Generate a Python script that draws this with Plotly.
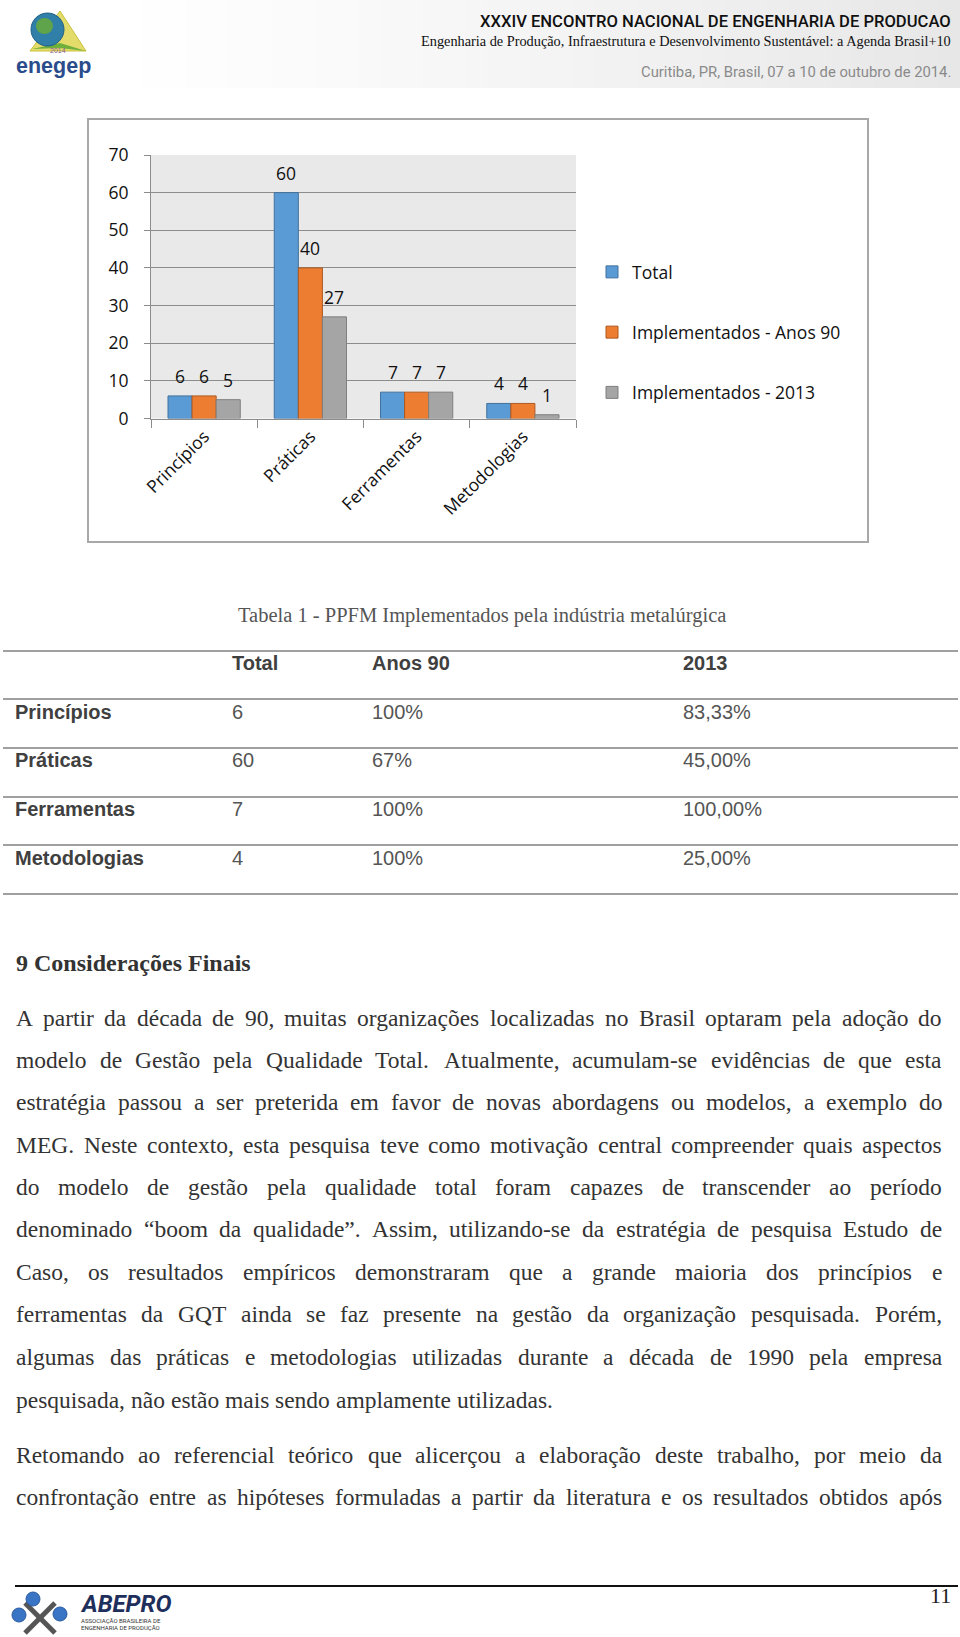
import plotly.graph_objects as go

PAGE_W, PAGE_H = 960, 1637

# ---------------- chart data ----------------
categories = ["Princípios", "Práticas", "Ferramentas", "Metodologias"]
series_names = ["Total", "Implementados - Anos 90", "Implementados - 2013"]
total = [6, 60, 7, 4]
anos90 = [6, 40, 7, 4]
ano2013 = [5, 27, 7, 1]
y_ticks = [0, 10, 20, 30, 40, 50, 60, 70]

# ---------------- table data ----------------
table_title = "Tabela 1 - PPFM Implementados pela indústria metalúrgica"
table_header = ["Total", "Anos 90", "2013"]
table_total = ["6", "60", "7", "4"]
table_anos90 = ["100%", "67%", "100%", "100%"]
table_2013 = ["83,33%", "45,00%", "100,00%", "25,00%"]

# ---------------- page text ----------------
heading = "9 Considerações Finais"
para1 = [
    "A partir da década de 90, muitas organizações localizadas no Brasil optaram pela adoção do",
    "modelo de Gestão pela Qualidade Total. Atualmente, acumulam-se evidências de que esta",
    "estratégia passou a ser preterida em favor de novas abordagens ou modelos, a exemplo do",
    "MEG. Neste contexto, esta pesquisa teve como motivação central compreender quais aspectos",
    "do modelo de gestão pela qualidade total foram capazes de transcender ao período",
    "denominado “boom da qualidade”. Assim, utilizando-se da estratégia de pesquisa Estudo de",
    "Caso, os resultados empíricos demonstraram que a grande maioria dos princípios e",
    "ferramentas da GQT ainda se faz presente na gestão da organização pesquisada. Porém,",
    "algumas das práticas e metodologias utilizadas durante a década de 1990 pela empresa",
    "pesquisada, não estão mais sendo amplamente utilizadas.",
]
para2 = [
    "Retomando ao referencial teórico que alicerçou a elaboração deste trabalho, por meio da",
    "confrontação entre as hipóteses formuladas a partir da literatura e os resultados obtidos após",
]


def PX(x):
    return x / PAGE_W


def PY(y):
    return 1 - y / PAGE_H


annotations = []


def ann(x, y, text, family, size, color, xanchor="left", yanchor="middle", weight=None):
    font = dict(family=family, size=size, color=color)
    if weight is not None:
        font["weight"] = weight
    annotations.append(dict(x=PX(x), y=PY(y), xref="paper", yref="paper", text=text,
                            showarrow=False, xanchor=xanchor, yanchor=yanchor,
                            borderpad=0, borderwidth=0, font=font))


colors = ["#5B9BD5", "#ED7D31", "#A5A5A5"]
edge = ["#41719C", "#AE5A21", "#7F7F7F"]
values = [total, anos90, ano2013]

CH_FONT = "Open Sans, Lato, sans-serif"
CH_SIZE = 17.5
BARGAP = 0.32
bw = (1 - BARGAP) / 3

fig = go.Figure()
xs = list(range(len(categories)))
for i, (name, vals) in enumerate(zip(series_names, values)):
    fig.add_trace(go.Bar(
        x=xs, y=vals, name=name, legendgroup=name,
        marker=dict(color=colors[i], line=dict(color=edge[i], width=1)),
        hoverinfo="y",
    ))

# value labels above bars, placed through the chart axes
for i, vals in enumerate(values):
    for c, v in zip(xs, vals):
        annotations.append(dict(
            x=c + (i - 1) * bw, y=v, xref="x", yref="y", text=str(v),
            showarrow=False, xanchor="center", yanchor="bottom", yshift=6,
            font=dict(family=CH_FONT, size=CH_SIZE, color="#111111"),
        ))

shapes = []
# header gradient band
N = 40
X0 = 100
for k in range(N):
    t = (k + 0.5) / N
    g = int(round(255 - 24 * t ** 1.2))
    x0 = X0 + (960 - X0) * k / N
    x1 = X0 + (960 - X0) * (k + 1) / N + 0.5
    shapes.append(dict(type="rect", xref="paper", yref="paper",
                       x0=PX(x0), x1=PX(min(x1, 960)), y0=PY(88), y1=PY(0),
                       fillcolor=f"rgb({g},{g},{g})", line=dict(width=0), layer="below"))


def path(pts):
    return "M " + " L ".join(f"{PX(x):.5f},{PY(y):.5f}" for x, y in pts) + " Z"


# enegep logo (approximation)
shapes.append(dict(type="path", xref="paper", yref="paper",
                   path=path([(60, 11), (86, 51), (30, 51)]),
                   fillcolor="#E4DC6A", line=dict(color="#C9C23A", width=1)))
shapes.append(dict(type="path", xref="paper", yref="paper",
                   path=path([(32, 49), (60, 43), (86, 51), (60, 48)]),
                   fillcolor="#6FAF3C", line=dict(width=0)))
shapes.append(dict(type="circle", xref="paper", yref="paper",
                   x0=PX(31), x1=PX(64), y0=PY(46), y1=PY(13),
                   fillcolor="#2F7FA8", line=dict(color="#1F5E86", width=1)))
shapes.append(dict(type="circle", xref="paper", yref="paper",
                   x0=PX(36), x1=PX(53), y0=PY(34), y1=PY(18),
                   fillcolor="#5FA34A", line=dict(width=0)))
ann(58, 50, "2014", "Liberation Sans", 7, "#8A5A9A", xanchor="center")
ann(53, 66, "<b>enegep</b>", "Liberation Sans, Arial", 21.5, "#2B4C8C", xanchor="center")

# header texts
NARROW = "Roboto, Liberation Sans, sans-serif"
ann(951, 21, "XXXIV ENCONTRO NACIONAL DE ENGENHARIA DE PRODUCAO", NARROW, 16.6, "#111111",
    xanchor="right", weight=500)
ann(951, 41, "Engenharia de Produção, Infraestrutura e Desenvolvimento Sustentável: a Agenda Brasil+10",
    "Liberation Serif, Times New Roman, serif", 14.3, "#111111", xanchor="right")
ann(951, 72, "Curitiba, PR, Brasil, 07 a 10 de outubro de 2014.", NARROW, 14.8, "#8A8A8A", xanchor="right")

# chart border
shapes.append(dict(type="rect", xref="paper", yref="paper",
                   x0=PX(88), x1=PX(868), y0=PY(542), y1=PY(119),
                   line=dict(color="#A8A8A8", width=2), fillcolor="rgba(0,0,0,0)"))

# table
SANS = "Liberation Sans, Arial, sans-serif"
SERIF = "Liberation Serif, Times New Roman, serif"
ann(482, 615, table_title, SERIF, 20.5, "#555555", xanchor="center")
for yl in [651, 699, 748, 797, 845, 894]:
    shapes.append(dict(type="line", xref="paper", yref="paper", x0=PX(3), x1=PX(958),
                       y0=PY(yl), y1=PY(yl), line=dict(color="#A0A0A0", width=2)))
col_x = [232, 372, 683]
for cx, h in zip(col_x, table_header):
    ann(cx, 663, f"<b>{h}</b>", SANS, 20, "#404040")
row_y = [712, 760, 809, 858]
for r, cat in enumerate(categories):
    ann(15, row_y[r], f"<b>{cat}</b>", SANS, 20, "#404040")
    for cx, val in zip(col_x, [table_total[r], table_anos90[r], table_2013[r]]):
        ann(cx, row_y[r], val, SANS, 20, "#555555")

# body text with justification (Times metrics)
TW = {}
for chars, w in [(" ,.", 250), ("ijlt:;íì", 278), ("fr-()I'", 333), ("sJ", 389),
                 ("aceáàâãçéêèz?“”", 444), ("bdghknopquvxyóôõúü0123456789", 500),
                 ("FPS", 556), ("+=", 564), ("ELTZ", 611), ("BCR", 667),
                 ("ADGHKNOQUVXYw", 722), ("m", 778), ("M", 889), ("W", 944)]:
    for ch in chars:
        TW[ch] = w


def tw(s, size):
    return sum(TW.get(ch, 500) for ch in s) / 1000.0 * size


BODY = 23.5
LEFT, RIGHT = 16, 942
TEXT_COL = "#333333"


def add_line(line, y, justify):
    words = line.split(" ")
    widths = [tw(w, BODY) for w in words]
    if justify and len(words) > 1:
        gap = (RIGHT - LEFT - sum(widths)) / (len(words) - 1)
    else:
        gap = tw(" ", BODY)
    x = LEFT
    for w, wd in zip(words, widths):
        ann(x, y, w, SERIF, BODY, TEXT_COL)
        x += wd + gap


ann(LEFT, 963, f"<b>{heading}</b>", SERIF, 24, "#333333")
p1_y = [1018, 1060, 1102, 1145, 1187, 1229, 1272, 1314, 1357, 1400]
for k, (ln, yy) in enumerate(zip(para1, p1_y)):
    add_line(ln, yy, justify=(k < len(para1) - 1))
p2_y = [1455, 1497]
for ln, yy in zip(para2, p2_y):
    add_line(ln, yy, justify=True)

# footer
shapes.append(dict(type="line", xref="paper", yref="paper", x0=PX(15), x1=PX(958),
                   y0=PY(1586), y1=PY(1586), line=dict(color="#111111", width=2)))
ann(951, 1595, "11", SERIF, 22, "#222222", xanchor="right")
# ABEPRO logo (approximation)
shapes.append(dict(type="line", xref="paper", yref="paper", x0=PX(25), x1=PX(55),
                   y0=PY(1603), y1=PY(1633), line=dict(color="#555555", width=5)))
shapes.append(dict(type="line", xref="paper", yref="paper", x0=PX(55), x1=PX(25),
                   y0=PY(1603), y1=PY(1633), line=dict(color="#555555", width=5)))
for cx, cy in [(19, 1615), (33, 1599), (60, 1614)]:
    shapes.append(dict(type="circle", xref="paper", yref="paper",
                       x0=PX(cx - 7), x1=PX(cx + 7), y0=PY(cy + 7), y1=PY(cy - 7),
                       fillcolor="#3A74C4", line=dict(color="#2A5AA0", width=1)))
ann(80, 1604, "<b><i>ABEPRO</i></b>", NARROW, 24, "#1F2F5C")
ann(81, 1620, "ASSOCIAÇÃO BRASILEIRA DE", NARROW, 6, "#333333")
ann(81, 1627, "ENGENHARIA DE PRODUÇÃO", NARROW, 6, "#333333")

AX_COL = "#8C8C8C"
fig.update_layout(
    width=PAGE_W, height=PAGE_H,
    margin=dict(l=0, r=0, t=0, b=0, pad=0, autoexpand=False),
    paper_bgcolor="white", plot_bgcolor="#E9E9E9",
    barmode="group", bargap=BARGAP, bargroupgap=0,
    font=dict(family=CH_FONT, size=CH_SIZE, color="#111111"),
    xaxis=dict(
        domain=[PX(151), PX(576)], range=[-0.5, 3.5], automargin=False,
        tickmode="array", tickvals=xs, ticktext=categories, tickangle=-45,
        ticks="", showgrid=False, zeroline=False,
        showline=True, linecolor=AX_COL, linewidth=1,
        tickfont=dict(family=CH_FONT, size=CH_SIZE, color="#111111"),
        minor=dict(tickmode="array", tickvals=[-0.5, 0.5, 1.5, 2.5, 3.5],
                   ticks="outside", ticklen=8, tickcolor=AX_COL, tickwidth=1, showgrid=False),
        fixedrange=True,
    ),
    yaxis=dict(
        domain=[PY(418.5), PY(155)], range=[0, 70], automargin=False,
        tickmode="array", tickvals=y_ticks,
        ticks="outside", ticklen=6, tickcolor=AX_COL,
        showline=True, linecolor=AX_COL, linewidth=1,
        showgrid=True, gridcolor=AX_COL, gridwidth=1, zeroline=False,
        ticklabelstandoff=12,
        tickfont=dict(family=CH_FONT, size=CH_SIZE, color="#111111"),
        fixedrange=True,
    ),
    legend=dict(
        x=PX(592), y=PY(254), xanchor="left", yanchor="top",
        bgcolor="rgba(0,0,0,0)", tracegroupgap=34.5,
        font=dict(family=CH_FONT, size=CH_SIZE, color="#111111"),
        traceorder="grouped",
    ),
    showlegend=True,
    annotations=annotations,
    shapes=shapes,
)

fig.write_html("out.html")
